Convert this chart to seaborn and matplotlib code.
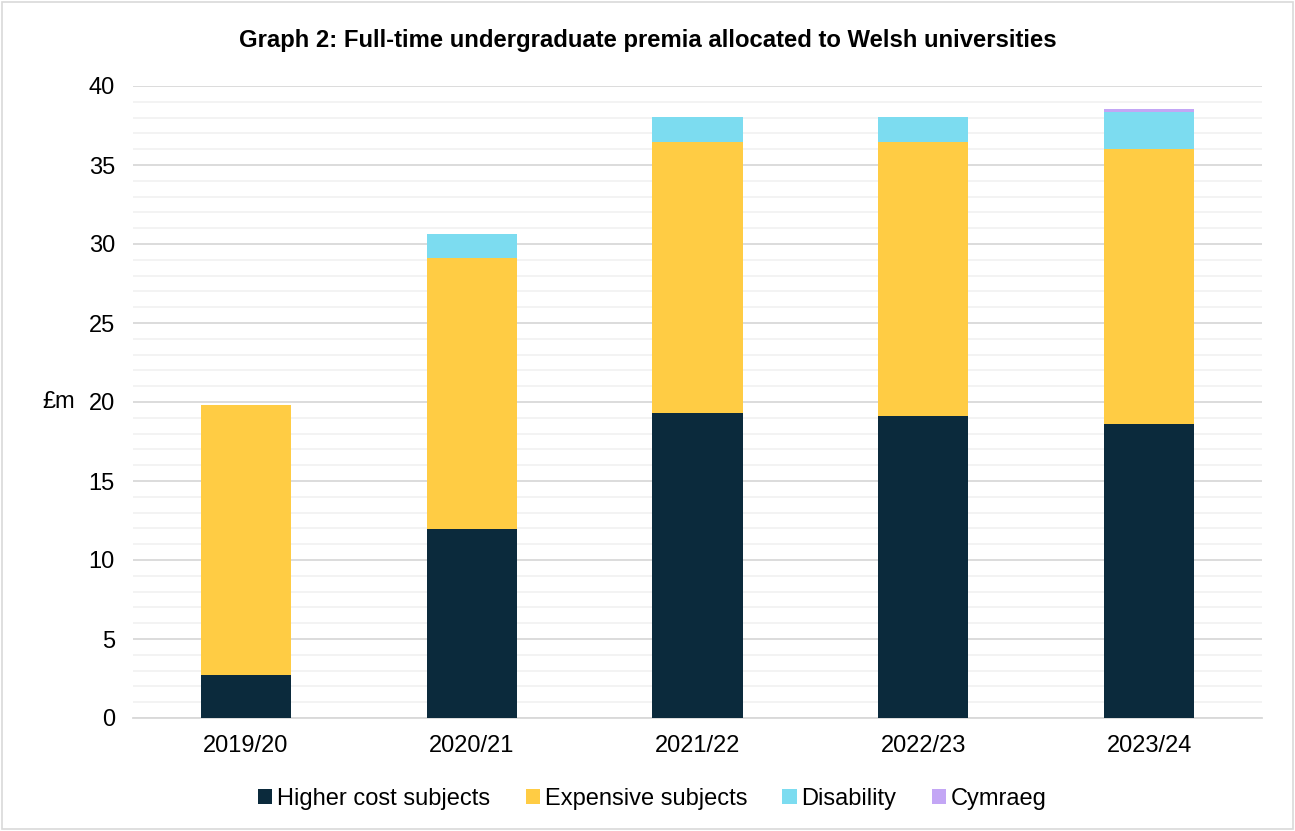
import matplotlib
matplotlib.use("Agg")
import matplotlib.pyplot as plt
import numpy as np
import pandas
import seaborn
from matplotlib.patches import Rectangle

years = ["2019/20", "2020/21", "2021/22", "2022/23", "2023/24"]
higher_cost = [2.72, 11.96, 19.30, 19.11, 18.61]
expensive = [17.09, 17.15, 17.16, 17.35, 17.40]
disability = [0.0, 1.52, 1.58, 1.58, 2.33]
cymraeg = [0.0, 0.0, 0.0, 0.0, 0.20]

series = ["Higher cost subjects", "Expensive subjects", "Disability", "Cymraeg"]
colours = ["#0b2a3c", "#ffcc44", "#7cdcf0", "#c3a6f5"]


def main():
    seaborn.set_theme(style="white")
    plt.rcParams["font.family"] = ["Liberation Sans", "DejaVu Sans"]
    plt.rcParams["text.color"] = "black"

    df = pandas.DataFrame({"year": years,
                           series[0]: higher_cost,
                           series[1]: expensive,
                           series[2]: disability,
                           series[3]: cymraeg})

    fig = plt.figure(figsize=(12.95, 8.31), dpi=100)
    ax = fig.add_axes([133 / 1295, 1 - 718 / 831, (1262 - 133) / 1295, (718 - 86) / 831])

    bottom = np.zeros(len(years))
    for name, colour in zip(series, colours):
        seaborn.barplot(ax=ax, data=df, x="year", y=name, color=colour,
                        bottom=bottom, width=0.4, label=name, zorder=3,
                        saturation=1, linewidth=0)
        bottom = bottom + df[name].values

    ax.set_ylim(0, 40)
    ax.set_xlim(-0.5, 4.5)
    ax.set_yticks(range(0, 41, 5))
    ax.set_yticks(range(0, 41, 1), minor=True)
    ax.grid(axis="y", which="major", color="#d9d9d9", linewidth=1.3, zorder=0)
    ax.grid(axis="y", which="minor", color="#f2f2f2", linewidth=1.3, zorder=0)
    ax.set_axisbelow(True)
    for side in ["left", "right", "top"]:
        ax.spines[side].set_visible(False)
    ax.spines["bottom"].set_color("#d9d9d9")
    ax.spines["bottom"].set_linewidth(1.3)
    ax.tick_params(axis="both", which="both", length=0, labelsize=17, colors="black")
    ax.tick_params(axis="x", pad=12)
    ax.tick_params(axis="y", pad=13)
    ax.set_xlabel("")
    ax.set_ylabel("£m", rotation=0, fontsize=17, va="center", color="black")
    ax.yaxis.set_label_coords(-0.066, 0.5)

    fig.suptitle("Graph 2: Full-time undergraduate premia allocated to Welsh universities",
                 fontsize=17.2, fontweight="bold", x=0.5, y=1 - 41 / 831, va="center", color="black")

    handles, labels = ax.get_legend_handles_labels()
    ax.legend(handles[:4], labels[:4], loc="center", bbox_to_anchor=(0.46, (718 - 799) / (718 - 86)),
              ncol=4, frameon=False, fontsize=17, handlelength=0.6, handleheight=0.6,
              handletextpad=0.2, columnspacing=1.5, labelcolor="black")

    fig.add_artist(Rectangle((2 / 1295, 2 / 831), 1 - 4 / 1295, 1 - 4 / 831, transform=fig.transFigure,
                             fill=False, edgecolor="#d9d9d9", linewidth=1.2))

    plt.savefig("out.png", dpi=100)


if __name__ == "__main__":
    main()
